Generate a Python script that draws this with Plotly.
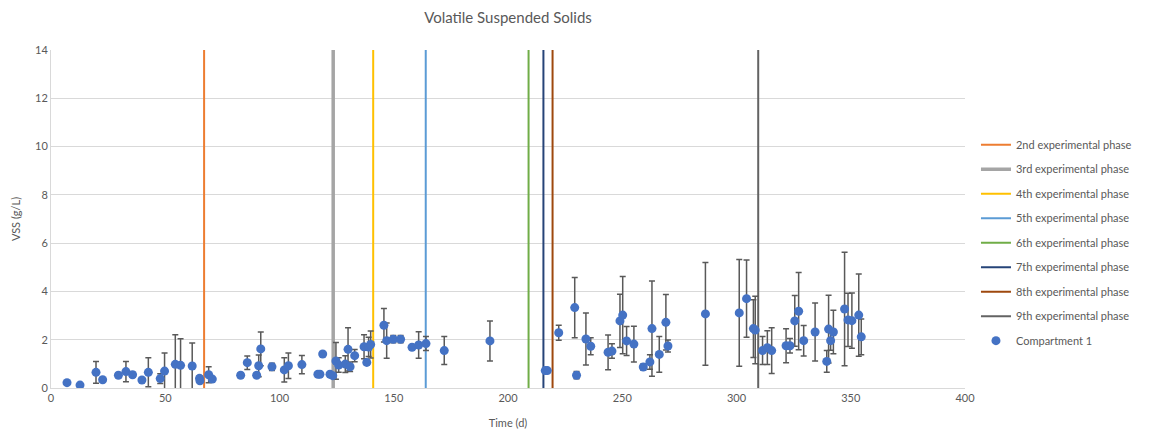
import plotly.graph_objects as go

# Compartment 1 data
time_d = [7, 12.7, 19.7, 22.6, 29.5, 32.8, 35.7, 39.8, 42.6, 47.8, 49.7, 54.4, 56.7, 61.8,
          65, 65.2, 69, 70.6, 83, 85.9, 90, 90.9, 91.8, 96.7, 102.1, 103.9, 109.8,
          116.8, 117.7, 118.9, 122.1, 123.3, 124.7, 125.9, 128.8, 130, 130.9, 132.9,
          137, 138.2, 139, 139.9, 145.7, 146.9, 149.8, 153, 158, 160.9, 164.1, 172.1,
          192.1, 216.3, 217.2, 222.2, 229.2, 230, 234.1, 236.2, 243.8, 245.5, 249,
          250.2, 251.9, 255.1, 259.2, 262.1, 263, 266.2, 269.1, 270, 286.4, 301.2,
          304.4, 307.4, 308.2, 311.4, 313.5, 315.4, 321.7, 323.4, 325.5, 327.2, 329.4,
          334.4, 339.5, 340.3, 341.2, 342.4, 347.3, 348.8, 350.5, 353.5, 354.6]
vss = [0.22, 0.12, 0.65, 0.34, 0.53, 0.68, 0.55, 0.33, 0.65, 0.39, 0.7, 0.98, 0.94, 0.91,
       0.4, 0.3, 0.55, 0.37, 0.53, 1.05, 0.53, 0.92, 1.62, 0.88, 0.75, 0.92, 0.97,
       0.57, 0.57, 1.41, 0.57, 0.51, 1.12, 0.95, 0.99, 1.6, 0.88, 1.34,
       1.71, 1.06, 1.7, 1.8, 2.6, 1.96, 2.02, 2.02, 1.69, 1.78, 1.84, 1.55,
       1.95, 0.72, 0.72, 2.29, 3.33, 0.53, 2.03, 1.73, 1.48, 1.53, 2.78,
       3.02, 1.95, 1.82, 0.87, 1.08, 2.46, 1.39, 2.72, 1.74, 3.07, 3.11,
       3.7, 2.46, 2.4, 1.55, 1.67, 1.55, 1.75, 1.75, 2.78, 3.18, 1.96,
       2.32, 1.1, 2.44, 1.96, 2.32, 3.27, 2.82, 2.79, 3.02, 2.12]
vss_err = [0, 0, 0.45, 0, 0.1, 0.42, 0.1, 0, 0.6, 0.2, 0.75, 1.23, 1.1, 0.95,
           0.1, 0.05, 0.33, 0.05, 0.1, 0.28, 0.05, 0.45, 0.7, 0.15, 0.5, 0.53, 0.38,
           0.05, 0.05, 0.05, 0.05, 0.1, 0.76, 0.3, 0.35, 0.9, 0.2, 0.25,
           0.5, 0.1, 0.4, 0.56, 0.69, 0.73, 0.15, 0.15, 0.05, 0.55, 0.29, 0.58,
           0.83, 0.05, 0.05, 0.31, 1.25, 0.15, 1.08, 0.35, 0.72, 0.3, 1.1,
           1.6, 0.6, 0.74, 0.12, 0.3, 1.97, 0.74, 1.15, 0.25, 2.13, 2.21,
           1.6, 1.2, 1.4, 0.58, 0.7, 0.95, 0.7, 0.3, 1.05, 1.6, 0.63,
           1.2, 0.45, 1.4, 0.4, 0.9, 2.35, 1.1, 1.14, 1.7, 0.74]

# Phase start days
phase_names = ["2nd experimental phase", "3rd experimental phase", "4th experimental phase",
               "5th experimental phase", "6th experimental phase", "7th experimental phase",
               "8th experimental phase", "9th experimental phase"]
phase_days = [67, 123.5, 141, 164, 209, 215.5, 219.5, 309.5]
phase_colors = ["#ED7D31", "#A5A5A5", "#FFC000", "#5B9BD5", "#70AD47", "#264478", "#9E480E", "#636363"]
phase_widths = [2, 3.5, 2, 2, 2, 2, 2, 2]

y_range = [0, 14]

fig = go.Figure()
for i, (name, d, c, w) in enumerate(zip(phase_names, phase_days, phase_colors, phase_widths)):
    fig.add_trace(go.Scatter(x=[d, d], y=y_range, mode="lines", name=name,
                             legendgroup=f"g{i}",
                             line=dict(color=c, width=w), hoverinfo="skip"))

fig.add_trace(go.Scatter(
    x=time_d, y=vss, mode="markers", name="Compartment 1", legendgroup="data",
    marker=dict(color="#4472C4", size=9),
    error_y=dict(type="data", array=vss_err, visible=True, color="#595959",
                 thickness=1.5, width=3),
))

font_family = "Lato, Open Sans, sans-serif"
fig.update_layout(
    width=1156, height=429,
    margin=dict(l=43, r=199, t=42, b=49),
    paper_bgcolor="white", plot_bgcolor="white",
    font=dict(family=font_family, color="#595959", size=11),
    title=dict(text="Volatile Suspended Solids", x=0.5, xref="paper", y=0.977,
               yanchor="middle", font=dict(size=15, color="#595959")),
    xaxis=dict(range=[0, 400], tickvals=[0, 50, 100, 150, 200, 250, 300, 350, 400],
               showgrid=False, zeroline=False, showline=True, linecolor="#D9D9D9",
               linewidth=1, ticks="", automargin=False,
               tickfont=dict(size=11, color="#595959"),
               title=dict(text="Time (d)", font=dict(size=11, color="#595959"), standoff=16)),
    yaxis=dict(range=y_range, tickvals=[0, 2, 4, 6, 8, 10, 12, 14],
               showgrid=True, gridcolor="#D9D9D9", gridwidth=1, zeroline=False,
               showline=True, linecolor="#D9D9D9", linewidth=1, ticks="", automargin=False,
               tickfont=dict(size=11, color="#595959"),
               title=dict(text="VSS (g/L)", font=dict(size=11, color="#595959"), standoff=12)),
    legend=dict(x=1.012, xanchor="left", y=0.43, yanchor="middle",
                font=dict(size=11, color="#595959"), tracegroupgap=5.5,
                itemwidth=30, bgcolor="rgba(0,0,0,0)"),
    showlegend=True,
)

fig.write_html("out.html")
